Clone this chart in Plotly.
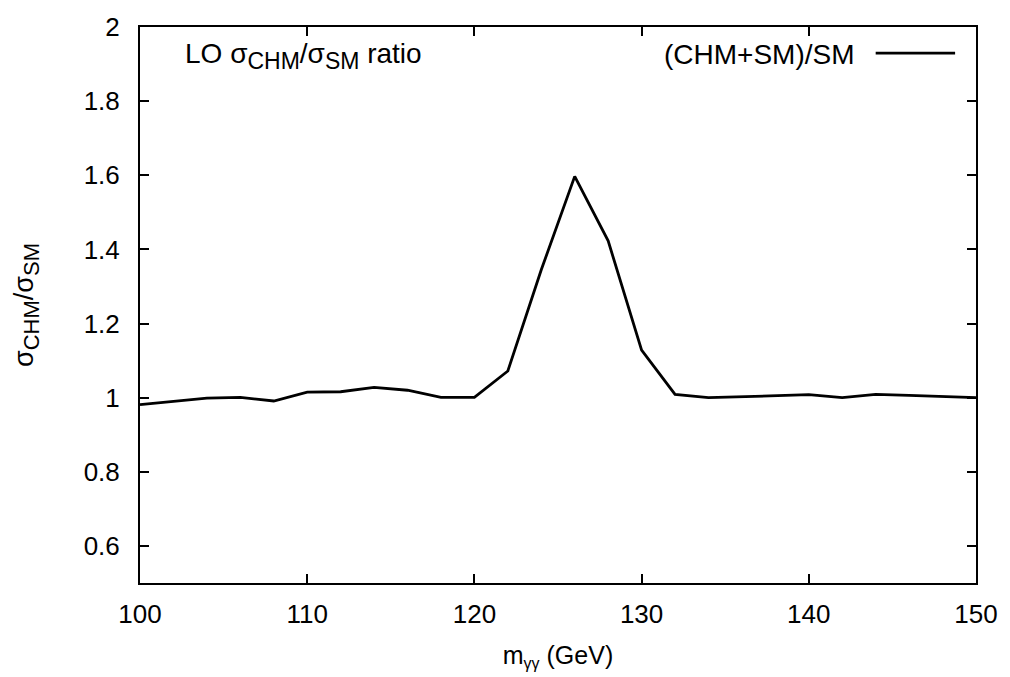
import plotly.graph_objects as go

mass = [100, 102, 104, 106, 108, 110, 112, 114, 116, 118, 120, 122, 124, 126,
        128, 130, 132, 134, 136, 138, 140, 142, 144, 146, 148, 150]
ratio = [0.981, 0.990, 0.999, 1.001, 0.991, 1.015, 1.016, 1.028, 1.020, 1.001,
         1.001, 1.072, 1.345, 1.597, 1.423, 1.128, 1.009, 1.000, 1.003, 1.006,
         1.008, 1.000, 1.009, 1.006, 1.003, 1.000]

x_ticks = [100, 110, 120, 130, 140, 150]
y_ticks = [0.6, 0.8, 1.0, 1.2, 1.4, 1.6, 1.8, 2.0]
y_tick_text = ["0.6", "0.8", "1", "1.2", "1.4", "1.6", "1.8", "2"]

FONT = "Liberation Sans, Arial, Helvetica, sans-serif"


def sub(t, px):
    return "<sub><span style='font-size:%dpx'>%s</span></sub>" % (px, t)


fig = go.Figure()
fig.add_trace(go.Scatter(x=mass, y=ratio, mode="lines",
                         line=dict(color="black", width=2.8),
                         name="(CHM+SM)/SM", showlegend=False))

axis_common = dict(showline=True, linecolor="black", linewidth=2, mirror="ticks",
                   ticks="inside", ticklen=9, tickwidth=1.5, tickcolor="black",
                   showgrid=False, zeroline=False,
                   tickfont=dict(family=FONT, size=26, color="black"))

fig.update_xaxes(range=[100, 150], tickvals=x_ticks, ticklabelstandoff=7,
                 title=dict(text="m" + sub("γγ", 16) + " (GeV)",
                            font=dict(family=FONT, size=25, color="black"),
                            standoff=18),
                 **axis_common)
fig.update_yaxes(range=[0.5, 2.0], tickvals=y_ticks, ticktext=y_tick_text, ticklabelstandoff=13,
                 title=dict(text="σ" + sub("CHM", 22) + "/σ" + sub("SM", 22),
                            font=dict(family=FONT, size=27, color="black"),
                            standoff=42),
                 **axis_common)

fig.add_annotation(x=0.051, y=0.947, xref="paper", yref="paper", xanchor="left", yanchor="middle",
                   text="LO σ" + sub("CHM", 23) + "/σ" + sub("SM", 23) + " ratio", showarrow=False,
                   font=dict(family=FONT, size=28, color="black"))
fig.add_annotation(x=0.858, y=0.951, xref="paper", yref="paper", xanchor="right", yanchor="middle",
                   text="(CHM+SM)/SM", showarrow=False,
                   font=dict(family=FONT, size=28, color="black"))
fig.add_shape(type="line", xref="paper", yref="paper", x0=0.880, x1=0.975, y0=0.953, y1=0.953,
              line=dict(color="black", width=2.8))

fig.update_layout(width=1010, height=677, margin=dict(l=140, r=29, t=20, b=89),
                  plot_bgcolor="white", paper_bgcolor="white",
                  font=dict(family=FONT, color="black"))

fig.write_html("out.html")
